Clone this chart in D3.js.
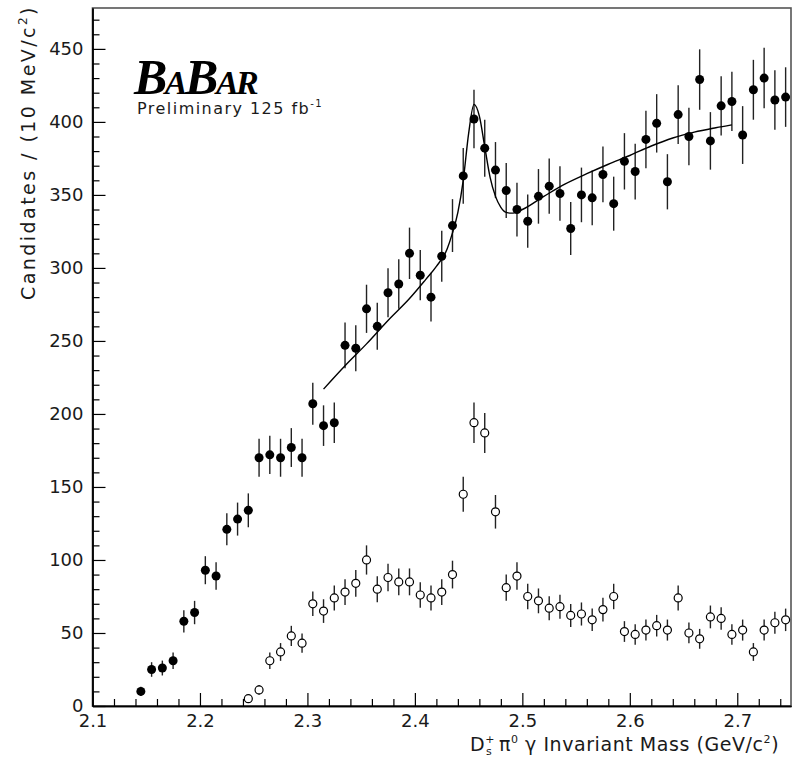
<!DOCTYPE html>
<html>
<head>
<meta charset="utf-8">
<script src="https://cdn.jsdelivr.net/npm/d3@7"></script>
<style>
body { margin: 0; background: #fff; }
svg { display: block; }
text { font-family: "DejaVu Sans", sans-serif; fill: #1a1a1a; }
</style>
</head>
<body>
<div id="viz"></div>
<script>
// filled points: all candidates
var allMass = [2.145, 2.155, 2.165, 2.175, 2.185, 2.195, 2.205, 2.215, 2.225, 2.235,
               2.245, 2.255, 2.265, 2.275, 2.285, 2.295, 2.305, 2.315, 2.325, 2.335,
               2.345, 2.355, 2.365, 2.375, 2.385, 2.395, 2.405, 2.415, 2.425, 2.435,
               2.445, 2.455, 2.465, 2.475, 2.485, 2.495, 2.505, 2.515, 2.525, 2.535,
               2.545, 2.555, 2.565, 2.575, 2.585, 2.595, 2.605, 2.615, 2.625, 2.635,
               2.645, 2.655, 2.665, 2.675, 2.685, 2.695, 2.705, 2.715, 2.725, 2.735, 2.745];
var allCounts = [10, 25, 26, 31, 58, 64, 93, 89, 121, 128,
                 134, 170, 172, 170, 177, 170, 207, 192, 194, 247,
                 245, 272, 260, 283, 289, 310, 295, 280, 308, 329,
                 363, 402, 382, 367, 353, 340, 332, 349, 356, 351,
                 327, 350, 348, 364, 344, 373, 366, 388, 399, 359,
                 405, 390, 429, 387, 411, 414, 391, 422, 430, 415, 417];
var allErrors = [3.2, 5, 5.1, 5.6, 7.6, 8, 9.6, 9.4, 11, 11.3,
                 11.6, 13, 13.1, 13, 13.3, 13, 14.4, 13.9, 13.9, 15.7,
                 15.7, 16.5, 16.1, 16.8, 17, 17.6, 17.2, 16.7, 17.5, 18.1,
                 19.1, 20, 19.5, 19.2, 18.8, 18.4, 18.2, 18.7, 18.9, 18.7,
                 18.1, 18.7, 18.7, 19.1, 18.5, 19.3, 19.1, 19.7, 20, 18.9,
                 20.1, 19.7, 20.7, 19.7, 20.3, 20.3, 19.8, 20.5, 20.7, 20.4, 20.4];

// open points: sideband / other selection
var openMass = [2.245, 2.255, 2.265, 2.275, 2.285, 2.295, 2.305, 2.315, 2.325, 2.335,
                2.345, 2.355, 2.365, 2.375, 2.385, 2.395, 2.405, 2.415, 2.425, 2.435,
                2.445, 2.455, 2.465, 2.475, 2.485, 2.495, 2.505, 2.515, 2.525, 2.535,
                2.545, 2.555, 2.565, 2.575, 2.585, 2.595, 2.605, 2.615, 2.625, 2.635,
                2.645, 2.655, 2.665, 2.675, 2.685, 2.695, 2.705, 2.715, 2.725, 2.735, 2.745];
var openCounts = [5, 11, 31, 37, 48, 43, 70, 65, 74, 78,
                  84, 100, 80, 88, 85, 85, 76, 74, 78, 90,
                  145, 194, 187, 133, 81, 89, 75, 72, 67, 68,
                  62, 63, 59, 66, 75, 51, 49, 52, 55, 52,
                  74, 50, 46, 61, 60, 49, 52, 37, 52, 57, 59];
var openErrors = [2.2, 3.3, 5.6, 6.1, 6.9, 6.6, 8.4, 8.1, 8.6, 8.8,
                  9.2, 10, 8.9, 9.4, 9.2, 9.2, 8.7, 8.6, 8.8, 9.5,
                  12, 13.9, 13.7, 11.5, 9, 9.4, 8.7, 8.5, 8.2, 8.2,
                  7.9, 7.9, 7.7, 8.1, 8.7, 7.1, 7, 7.2, 7.4, 7.2,
                  8.6, 7.1, 6.8, 7.8, 7.7, 7, 7.2, 6.1, 7.2, 7.5, 7.7];

// fit curve
var fitMass = [2.315, 2.335, 2.355, 2.375, 2.395, 2.41, 2.42, 2.43, 2.435, 2.44,
               2.445, 2.45, 2.455, 2.46, 2.465, 2.47, 2.475, 2.48, 2.485, 2.49,
               2.50, 2.52, 2.54, 2.56, 2.58, 2.60, 2.62, 2.64, 2.66, 2.68, 2.695];
var fitCounts = [217, 233, 248, 264, 279, 292, 301, 313, 324, 338,
                 360, 392, 412, 404, 383, 362, 349, 341.5, 338, 337.5,
                 340, 349, 357.5, 364.5, 371, 377, 383.5, 389, 393, 396, 398];

var xTicks = [2.1, 2.2, 2.3, 2.4, 2.5, 2.6, 2.7];
var yTicks = [0, 50, 100, 150, 200, 250, 300, 350, 400, 450];

var width = 793, height = 772;
var plot = {left: 92.5, right: 791, top: 8, bottom: 706};

var svg = d3.select("#viz").append("svg")
    .attr("width", width)
    .attr("height", height);

var x = d3.scaleLinear().domain([2.1, 2.75]).range([plot.left, plot.right]);
var y = d3.scaleLinear().domain([0, 478]).range([plot.bottom, plot.top]);

// stretch text to a wanted length, the old PAW font is wide
function fitText(sel, target) {
    var len = sel.node().getComputedTextLength();
    var n = sel.text().length;
    sel.attr("letter-spacing", ((target - len) / n).toFixed(2));
}

function drawFrame() {
    svg.append("rect")
        .attr("x", plot.left)
        .attr("y", plot.top)
        .attr("width", plot.right - plot.left)
        .attr("height", plot.bottom - plot.top)
        .attr("fill", "none")
        .attr("stroke", "#555")
        .attr("stroke-width", 1.6);
}

function drawAxes() {
    var minorX = d3.range(2.1, 2.751, 0.02).filter(function(v) {
        return Math.abs(v * 10 - Math.round(v * 10)) > 1e-6;
    });
    var minorY = d3.range(0, 471, 10).filter(function(v) { return v % 50 != 0; });

    svg.append("g")
        .attr("transform", "translate(0," + plot.bottom + ")")
        .call(d3.axisBottom(x).tickValues(minorX).tickSize(-7).tickSizeOuter(0).tickFormat(""));
    var gx = svg.append("g")
        .attr("transform", "translate(0," + plot.bottom + ")")
        .call(d3.axisBottom(x).tickValues(xTicks).tickSize(-13).tickSizeOuter(0)
              .tickPadding(8).tickFormat(d3.format(".1f")));
    gx.selectAll("text").style("font-size", "18px").attr("font-family", null);

    svg.append("g")
        .attr("transform", "translate(" + plot.left + ",0)")
        .call(d3.axisLeft(y).tickValues(minorY).tickSize(-7).tickSizeOuter(0).tickFormat(""));
    var gy = svg.append("g")
        .attr("transform", "translate(" + plot.left + ",0)")
        .call(d3.axisLeft(y).tickValues(yTicks).tickSize(-13).tickSizeOuter(0).tickPadding(9));
    gy.selectAll("text").style("font-size", "18px").attr("font-family", null);

    svg.selectAll(".domain").attr("stroke", "#000").attr("stroke-width", 1.4);
    svg.selectAll(".tick line").attr("stroke", "#000").attr("stroke-width", 1.2);
}

function drawErrorBars(mass, counts, errors) {
    var g = svg.append("g");
    for (var i = 0; i < mass.length; i++) {
        g.append("line")
            .attr("x1", x(mass[i])).attr("x2", x(mass[i]))
            .attr("y1", y(counts[i] - errors[i]))
            .attr("y2", y(counts[i] + errors[i]))
            .attr("stroke", "#222")
            .attr("stroke-width", 1.4);
    }
}

function drawMarkers(mass, counts, filled) {
    var g = svg.append("g");
    for (var i = 0; i < mass.length; i++) {
        g.append("circle")
            .attr("cx", x(mass[i]))
            .attr("cy", y(counts[i]))
            .attr("r", filled ? 4.5 : 4)
            .attr("fill", filled ? "#000" : "#fff")
            .attr("stroke", "#000")
            .attr("stroke-width", filled ? 0 : 1.2);
    }
}

function drawFit() {
    var pts = fitMass.map(function(m, i) { return [m, fitCounts[i]]; });
    var line = d3.line()
        .x(function(d) { return x(d[0]); })
        .y(function(d) { return y(d[1]); })
        .curve(d3.curveMonotoneX);
    svg.append("path")
        .datum(pts)
        .attr("d", line)
        .attr("fill", "none")
        .attr("stroke", "#000")
        .attr("stroke-width", 1.4);
}

function drawLabels() {
    // BaBar logo
    var logo = svg.append("text")
        .attr("x", 134).attr("y", 94)
        .style("font-family", "'Liberation Serif', 'DejaVu Serif', serif")
        .style("font-style", "italic")
        .style("font-weight", "bold")
        .style("fill", "#000")
        .attr("letter-spacing", -2.5);
    logo.append("tspan").style("font-size", "50px").text("B");
    logo.append("tspan").style("font-size", "34px").text("A");
    logo.append("tspan").style("font-size", "50px").text("B");
    logo.append("tspan").style("font-size", "34px").text("AR");

    var prelim = svg.append("text")
        .attr("x", 137).attr("y", 114)
        .style("font-size", "16px");
    prelim.append("tspan").text("Preliminary 125 fb");
    prelim.append("tspan").attr("dy", -7).style("font-size", "10px").text("-1");
    fitText(prelim, 186);

    // y title
    var yt = svg.append("text")
        .attr("transform", "translate(35,5) rotate(-90)")
        .attr("text-anchor", "end")
        .style("font-size", "19px");
    yt.append("tspan").text("Candidates / (10 MeV/c");
    yt.append("tspan").attr("dy", -8).style("font-size", "12px").text("2");
    yt.append("tspan").attr("dy", 8).text(")");
    fitText(yt, 295);

    // x title
    var xt = svg.append("text")
        .attr("x", 470).attr("y", 751)
        .style("font-size", "19px");
    xt.append("tspan").text("D");
    xt.append("tspan").attr("dy", -8).style("font-size", "11px").text("+");
    xt.append("tspan").attr("dx", -9).attr("dy", 12).style("font-size", "11px").text("s");
    xt.append("tspan").attr("dy", -4).text(" \u03c0");
    xt.append("tspan").attr("dy", -8).style("font-size", "11px").text("0");
    xt.append("tspan").attr("dy", 8).text(" \u03b3 Invariant Mass (GeV/c");
    xt.append("tspan").attr("dy", -8).style("font-size", "11px").text("2");
    xt.append("tspan").attr("dy", 8).text(")");
    fitText(xt, 318);
}

drawFrame();
drawAxes();
drawErrorBars(allMass, allCounts, allErrors);
drawErrorBars(openMass, openCounts, openErrors);
drawFit();
drawMarkers(allMass, allCounts, true);
drawMarkers(openMass, openCounts, false);
drawLabels();
</script>
</body>
</html>
